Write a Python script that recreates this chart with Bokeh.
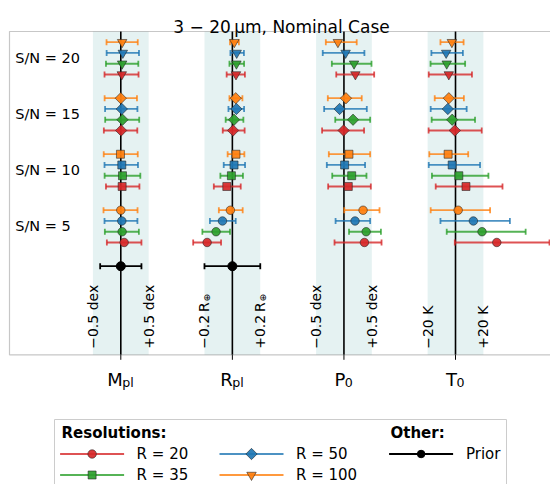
import math
from bokeh.plotting import figure
from bokeh.models import Range1d, ColumnDataSource, BoxAnnotation
from bokeh.embed import file_html
from bokeh.resources import INLINE
from bokeh.core.properties import value

FONT = "DejaVu Sans"

# ------------------------------------------------------------------ data
title_text = "3 \u2212 20\u2009\u03bcm, Nominal Case"
param_names = ["M", "R", "P", "T"]
param_subs = ["pl", "pl", "0", "0"]
band_limits = [0.5, 0.2, 0.5, 20]          # half width of shaded band, in parameter units
band_units = ["dex", "R", "dex", "K"]
sn_levels = [20, 15, 10, 5]
resolutions = [100, 50, 35, 20]            # top-to-bottom order inside each S/N group

# offsets from truth; rows = S/N (20,15,10,5), columns = R (100,50,35,20)
mpl_val = [[0.024, 0.036, 0.024, 0.018],
           [0.000, 0.018, 0.030, 0.006],
           [-0.006, 0.018, 0.030, 0.024],
           [0.000, 0.018, 0.024, 0.060]]
mpl_lo = [[0.28, 0.29, 0.29, 0.31],
          [0.29, 0.30, 0.31, 0.31],
          [0.30, 0.31, 0.32, 0.29],
          [0.31, 0.31, 0.31, 0.31]]
mpl_hi = [[0.28, 0.29, 0.29, 0.30],
          [0.29, 0.28, 0.30, 0.29],
          [0.31, 0.29, 0.32, 0.31],
          [0.30, 0.28, 0.30, 0.31]]

rpl_val = [[0.014, 0.031, 0.029, 0.026],
           [0.024, 0.029, 0.012, 0.005],
           [0.026, 0.012, -0.007, -0.040],
           [-0.014, -0.071, -0.117, -0.181]]
rpl_lo = [[0.031, 0.045, 0.050, 0.067],
          [0.045, 0.057, 0.060, 0.074],
          [0.060, 0.074, 0.079, 0.093],
          [0.083, 0.090, 0.098, 0.100]]
rpl_hi = [[0.033, 0.052, 0.055, 0.064],
          [0.048, 0.055, 0.067, 0.083],
          [0.060, 0.079, 0.083, 0.100],
          [0.088, 0.095, 0.100, 0.100]]

p0_val = [[-0.108, 0.030, 0.181, 0.205],
          [0.036, -0.078, 0.163, -0.006],
          [0.090, 0.012, 0.139, 0.078],
          [0.343, 0.199, 0.398, 0.367]]
p0_lo = [[0.217, 0.410, 0.398, 0.343],
         [0.325, 0.277, 0.319, 0.386],
         [0.361, 0.319, 0.349, 0.361],
         [0.337, 0.349, 0.307, 0.536]]
p0_hi = [[0.337, 0.337, 0.313, 0.337],
         [0.283, 0.488, 0.307, 0.367],
         [0.380, 0.367, 0.265, 0.404],
         [0.295, 0.271, 0.265, 0.307]]

t0_val = [[-2.6, -6.7, -6.3, -4.8],
          [-4.8, -5.5, -2.4, -0.5],
          [-5.3, -2.4, 2.4, 7.5],
          [1.9, 12.8, 19.0, 29.6]]
t0_lo = [[8.2, 10.6, 11.6, 14.4],
         [10.1, 12.3, 14.7, 18.8],
         [13.5, 16.8, 19.3, 21.7],
         [19.7, 23.6, 25.3, 30.1]]
t0_hi = [[8.4, 12.0, 13.2, 16.6],
         [10.8, 13.5, 16.4, 19.3],
         [14.4, 20.0, 21.2, 26.2],
         [22.9, 26.2, 31.3, 37.8]]

# prior (only M_pl and R_pl)
prior_params = [0, 1]
prior_val = [0.0, 0.0]
prior_lo = [0.37, 0.2]
prior_hi = [0.37, 0.2]

all_val = [mpl_val, rpl_val, p0_val, t0_val]
all_lo = [mpl_lo, rpl_lo, p0_lo, t0_lo]
all_hi = [mpl_hi, rpl_hi, p0_hi, t0_hi]

legend_order = [20, 35, 50, 100]

# ------------------------------------------------------------------ styles / layout
res_colors = ["#ff7f0e", "#1f77b4", "#2ca02c", "#d62728"]   # for R = 100, 50, 35, 20
sn_markers = ["inverted_triangle", "diamond", "square", "circle"]
legend_markers = {20: "circle", 35: "square", 50: "diamond", 100: "inverted_triangle"}
marker_spec = {
    "inverted_triangle": ("inverted_triangle", 9.5, 0.0),
    "diamond": ("square", 8.0, math.pi / 4),
    "square": ("square", 8.0, 0.0),
    "circle": ("circle", 8.5, 0.0),
}

W, H = 550, 484
col_x = [1, 2, 3, 4]
scale = [0.25 / l for l in band_limits]
sn_y = [4, 3, 2, 1]
res_dy = [0.288, 0.096, -0.096, -0.288]
prior_y = 0.288
PX_X = 111.57   # pixels per x unit
PX_Y = 56.0     # pixels per y unit
X0_PX = 120.3   # pixel of x = 1
Y0_PX = 57.85   # pixel of y = 4


def xd(px):
    return 1 + (px - X0_PX) / PX_X


def yd(py):
    return 4 - (py - Y0_PX) / PX_Y


AX_L, AX_R, AX_T, AX_B = 9, 552, 31, 354.3   # axes box (pixels)

p = figure(width=W, height=H, x_range=Range1d(xd(0), xd(W)),
           y_range=Range1d(yd(H), yd(0)), toolbar_location=None,
           output_backend="svg", x_axis_type=None, y_axis_type=None,
           min_border=0, outline_line_color=None)
p.grid.visible = False
p.background_fill_color = "white"
p.border_fill_color = "white"

# bands
for c in col_x:
    p.add_layout(BoxAnnotation(left=c - 0.25, right=c + 0.25, top=yd(AX_T), bottom=yd(AX_B),
                               fill_color="#008080", fill_alpha=0.1, line_color=None,
                               level="underlay"))
# center lines
p.segment(x0=col_x, y0=[yd(AX_B)] * 4, x1=col_x, y1=[yd(AX_T)] * 4,
          line_color="black", line_width=1.6)
# tick marks below axes
p.segment(x0=col_x, y0=[yd(AX_B)] * 4, x1=col_x, y1=[yd(AX_B + 5)] * 4,
          line_color="black", line_width=1.0)

# error bars
bars = dict(x0=[], x1=[], y=[], color=[])
for pi in range(4):
    for gi in range(len(sn_levels)):
        for ri in range(len(resolutions)):
            v = all_val[pi][gi][ri]
            bars["x0"].append(col_x[pi] + (v - all_lo[pi][gi][ri]) * scale[pi])
            bars["x1"].append(col_x[pi] + (v + all_hi[pi][gi][ri]) * scale[pi])
            bars["y"].append(sn_y[gi] + res_dy[ri])
            bars["color"].append(res_colors[ri])
bsrc = ColumnDataSource(bars)
p.segment(x0="x0", y0="y", x1="x1", y1="y", line_color="color", line_alpha=0.8,
          line_width=1.8, source=bsrc)
for key in ("x0", "x1"):
    p.scatter(x=key, y="y", marker="dash", angle=math.pi / 2, size=6, line_color="color",
              line_alpha=0.8, line_width=1.8, source=bsrc)

# prior
pr = dict(x=[], x0=[], x1=[], y=[])
for k, pi in enumerate(prior_params):
    pr["x"].append(col_x[pi] + prior_val[k] * scale[pi])
    pr["x0"].append(col_x[pi] + (prior_val[k] - prior_lo[k]) * scale[pi])
    pr["x1"].append(col_x[pi] + (prior_val[k] + prior_hi[k]) * scale[pi])
    pr["y"].append(prior_y)
psrc = ColumnDataSource(pr)
p.segment(x0="x0", y0="y", x1="x1", y1="y", line_color="black", line_width=1.8, source=psrc)
for key in ("x0", "x1"):
    p.scatter(x=key, y="y", marker="dash", angle=math.pi / 2, size=6, line_color="black",
              line_width=1.8, source=psrc)
p.scatter(x="x", y="y", marker="circle", size=9, fill_color="black", line_color="black",
          source=psrc)

# markers
for gi in range(len(sn_levels)):
    m, size, ang = marker_spec[sn_markers[gi]]
    d = dict(x=[], y=[], color=[])
    for pi in range(4):
        for ri in range(len(resolutions)):
            d["x"].append(col_x[pi] + all_val[pi][gi][ri] * scale[pi])
            d["y"].append(sn_y[gi] + res_dy[ri])
            d["color"].append(res_colors[ri])
    p.scatter(x="x", y="y", marker=m, size=size, angle=ang, fill_color="color",
              fill_alpha=0.92, line_color="#222222", line_alpha=0.7, line_width=0.8,
              source=ColumnDataSource(d))


def txt(x, y, s, size, align="left", baseline="middle", angle=0.0, style="normal"):
    p.text(x=[x], y=[y], text=[s], angle=angle, text_font=value(FONT),
           text_font_size=size, text_align=align, text_baseline=baseline,
           text_font_style=style, text_color="black")


# S/N labels
for gi, s in enumerate(sn_levels):
    txt(xd(14.7), sn_y[gi], f"S/N = {s}", "14.5px")

# band limit labels (rotated)
for pi, c in enumerate(col_x):
    lim = band_limits[pi]
    unit = band_units[pi]
    sep = "\u2009" if unit == "R" else " "
    for sign, xe in (("\u2212", c - 0.25), ("+", c + 0.25)):
        txt(xe, yd(348.3), f"{sign}{lim:g}{sep}{unit}", "14px", angle=math.pi / 2)
        if unit == "R":
            txt(xe + 3.0 / PX_X, yd(301), "\u2295", "9px", angle=math.pi / 2)

# parameter tick labels with subscripts
main_w = {"M": 0.863, "R": 0.695, "P": 0.603, "T": 0.611}
sub_w = {"p": 0.635, "l": 0.278, "0": 0.636}
for pi, c in enumerate(col_x):
    wm = main_w[param_names[pi]] * 18
    ws = sum(sub_w[ch] for ch in param_subs[pi]) * 12.6
    x_main = -(wm + ws) / 2
    x_sub = x_main + wm - 0.5
    txt(c + x_main / PX_X, yd(378.6), param_names[pi], "18px", baseline="alphabetic")
    txt(c + x_sub / PX_X, yd(381.6), param_subs[pi], "12.6px", baseline="alphabetic")

# title
txt(xd(281), yd(26), title_text, "17px", align="center", baseline="alphabetic")

# axes box
p.add_layout(BoxAnnotation(left=xd(AX_L), right=xd(AX_R), top=yd(AX_T), bottom=yd(AX_B),
                           fill_color=None, line_color="#444444", line_width=1.2,
                           level="overlay"))

# ------------------------------------------------------------------ legend
p.quad(left=[xd(54)], right=[xd(506)], top=[yd(419)], bottom=[yd(530)], fill_color="white",
       line_color="#cccccc", line_width=1)
txt(xd(61), yd(432), "Resolutions:", "15px", style="bold")
txt(xd(390), yd(432), "Other:", "15px", style="bold")

row_py = [453.5, 474.5, 453.5, 474.5]
col_px = [59.6, 59.6, 219.0, 219.0]
for k, r in enumerate(legend_order):
    ri = resolutions.index(r)
    color = res_colors[ri]
    x0 = col_px[k]
    y = yd(row_py[k])
    p.segment(x0=[xd(x0)], y0=[y], x1=[xd(x0 + 64)], y1=[y], line_color=color,
              line_alpha=0.8, line_width=1.8)
    m, size, ang = marker_spec[legend_markers[r]]
    p.scatter(x=[xd(x0 + 32)], y=[y], marker=m, size=size, angle=ang, fill_color=color,
              fill_alpha=0.92, line_color="#222222", line_alpha=0.7, line_width=0.8)
    txt(xd(x0 + 76.5), y, f"R = {r}", "15px")

# prior legend entry
y = yd(453.5)
p.segment(x0=[xd(388.6)], y0=[y], x1=[xd(452.6)], y1=[y], line_color="black", line_width=1.8)
p.scatter(x=[xd(420.6)], y=[y], marker="circle", size=7.5, fill_color="black",
          line_color="black")
txt(xd(465.5), y, "Prior", "15px")

open("out.html", "w").write(file_html(p, INLINE))
